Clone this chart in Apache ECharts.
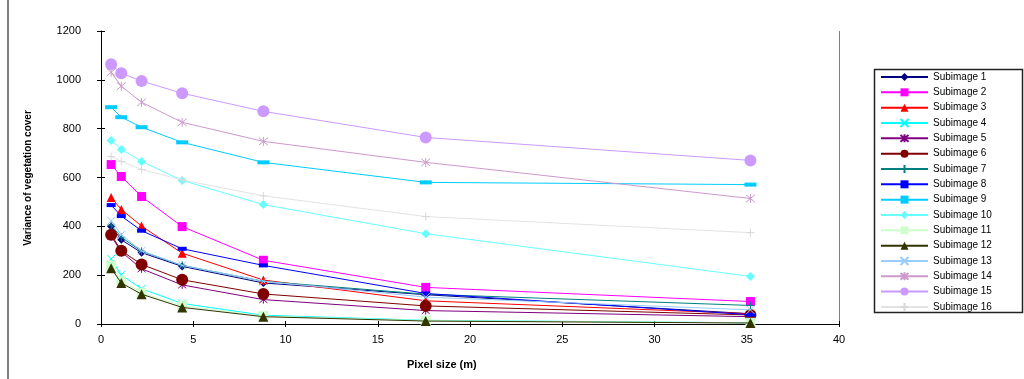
<!DOCTYPE html>
<html>
<head>
<meta charset="utf-8">
<script src="https://cdn.jsdelivr.net/npm/echarts@6/dist/echarts.min.js"></script>
<style>
html,body{margin:0;padding:0;background:#fff;}
#c{width:1024px;height:379px;}
</style>
</head>
<body>
<div id="c"></div>
<script>
const pixelSizes = [0.55, 1.1, 2.2, 4.4, 8.8, 17.6, 35.2];
const seriesNames = ['Subimage 1','Subimage 2','Subimage 3','Subimage 4','Subimage 5','Subimage 6','Subimage 7','Subimage 8','Subimage 9','Subimage 10','Subimage 11','Subimage 12','Subimage 13','Subimage 14','Subimage 15','Subimage 16'];
const sub1  = [399, 345, 292, 236, 168, 120, 42];
const sub2  = [653, 604, 522, 399, 261, 150, 92];
const sub3  = [518, 469, 401, 290, 180, 95, 42];
const sub4  = [267, 201, 144, 84, 36, 15, 5];
const sub5  = [360, 296, 226, 160, 100, 55, 30];
const sub6  = [366, 300, 244, 181, 123, 74, 37];
const sub7  = [405, 355, 298, 240, 175, 122, 76];
const sub8  = [487, 442, 382, 308, 240, 125, 38];
const sub9  = [888, 847, 806, 744, 662, 580, 571];
const sub10 = [752, 715, 666, 588, 489, 370, 195];
const sub11 = [240, 178, 128, 75, 32, 14, 5];
const sub12 = [228, 168, 122, 68, 30, 12, 4];
const sub13 = [423, 366, 300, 240, 175, 110, 58];
const sub14 = [1031, 974, 908, 826, 748, 662, 514];
const sub15 = [1064, 1027, 995, 945, 871, 764, 670];
const sub16 = [686, 666, 633, 590, 525, 440, 374];
const allValues = [sub1,sub2,sub3,sub4,sub5,sub6,sub7,sub8,sub9,sub10,sub11,sub12,sub13,sub14,sub15,sub16];

const X_PATH = 'path://M0,0L10,10M10,0L0,10';
const AST_PATH = 'path://M0,0L10,10M10,0L0,10M5,-1L5,11';
const PLUS_PATH = 'path://M5,0L5,10M0,5L10,5';

// style: [lineColor, markerColor, symbol, size, stroked]
const styles = [
  ['#000080','#000080','diamond',8,false],
  ['#FF00FF','#FF00FF','rect',9,false],
  ['#FF0000','#FF0000','triangle',9,false],
  ['#00FFFF','#00FFFF',X_PATH,8,true],
  ['#800080','#800080',AST_PATH,8,true],
  ['#800000','#800000','circle',12,false],
  ['#008080','#008080',PLUS_PATH,8,true],
  ['#0000FF','#0000FF','rect',[9,4],false],
  ['#00CCFF','#00CCFF','rect',[12,4],false],
  ['#66FFFF','#66FFFF','diamond',9,false],
  ['#CCFFCC','#CCFFCC','rect',10,false],
  ['#333300','#333300','triangle',10,false],
  ['#99CCFF','#99CCFF',X_PATH,8,true],
  ['#CC99CC','#CC99CC',AST_PATH,9,true],
  ['#CC99FF','#CC99FF','circle',12,false],
  ['#E3E3E3','#D8D8D8',PLUS_PATH,8,true]
];

const series = allValues.map((vals, i) => {
  const s = styles[i];
  return {
    name: seriesNames[i],
    type: 'line',
    xAxisIndex: 0, yAxisIndex: 0,
    data: vals.map((v, j) => [pixelSizes[j], v]),
    symbol: s[2],
    symbolSize: s[3],
    showAllSymbol: true,
    lineStyle: {color: s[0], width: 1},
    itemStyle: s[4] ? {color: 'rgba(0,0,0,0)', borderColor: s[1], borderWidth: 1} : {color: s[1], borderWidth: 0},
    emphasis: {disabled: true},
    z: 2 + i
  };
});

const chart = echarts.init(document.getElementById('c'), null, {renderer: 'canvas'});
const font = 'Liberation Sans';
chart.setOption({
  animation: false,
  backgroundColor: '#fff',
  textStyle: {fontFamily: font},
  grid: {left: 101, right: 185, top: 31, bottom: 55, containLabel: false},
  xAxis: [{
    type: 'value', min: 0, max: 40, interval: 5,
    axisLine: {show: true, lineStyle: {color: '#000', width: 1}},
    axisTick: {show: true, inside: false, length: 3, lineStyle: {color: '#000'}},
    axisLabel: {color: '#000', fontSize: 11, fontFamily: font, margin: 10, formatter: v => String(v)},
    splitLine: {show: false}
  }, {
    type: 'value', min: 0, max: 40, interval: 5, position: 'bottom',
    axisLine: {show: false},
    axisTick: {show: true, inside: true, length: 3, lineStyle: {color: '#000'}},
    axisLabel: {show: false},
    splitLine: {show: false}
  }],
  yAxis: [{
    type: 'value', min: 0, max: 1200, interval: 200,
    axisLine: {show: true, lineStyle: {color: '#000', width: 1}},
    axisTick: {show: true, inside: false, length: 4, lineStyle: {color: '#000'}},
    axisLabel: {color: '#000', fontSize: 11, fontFamily: font, margin: 20, formatter: v => String(v)},
    splitLine: {show: false}
  }, {
    type: 'value', min: 0, max: 1200, interval: 200, position: 'left',
    axisLine: {show: false},
    axisTick: {show: true, inside: true, length: 4, lineStyle: {color: '#000'}},
    axisLabel: {show: false},
    splitLine: {show: false}
  }],
  legend: {
    orient: 'vertical',
    left: 880, top: 72,
    itemWidth: 47, itemHeight: 10, itemGap: 5.33,
    padding: 0,
    textStyle: {fontSize: 10, color: '#000', fontFamily: font, padding: [0,0,0,0]},
    data: seriesNames,
    selectedMode: false
  },
  graphic: [
    {type: 'rect', shape: {x: 874.5, y: 69.5, width: 148, height: 243}, style: {fill: 'none', stroke: '#222', lineWidth: 1.5}, z: 0},
    {type: 'line', shape: {x1: 839.5, y1: 31, x2: 839.5, y2: 324}, style: {stroke: '#808080', lineWidth: 1}, z: 0},
    {type: 'line', shape: {x1: 8, y1: 0, x2: 8, y2: 379}, style: {stroke: '#808080', lineWidth: 2}, z: 0},
    {type: 'text', left: 407, top: 359, style: {text: 'Pixel size (m)', font: 'bold 11px "Liberation Sans"', fill: '#000'}},
    {type: 'text', x: 28, y: 178, rotation: Math.PI / 2, style: {text: 'Variance of vegetation cover', font: 'bold 10px "Liberation Sans"', fill: '#000', align: 'center', verticalAlign: 'middle'}}
  ],
  series: series
});
</script>
</body>
</html>
